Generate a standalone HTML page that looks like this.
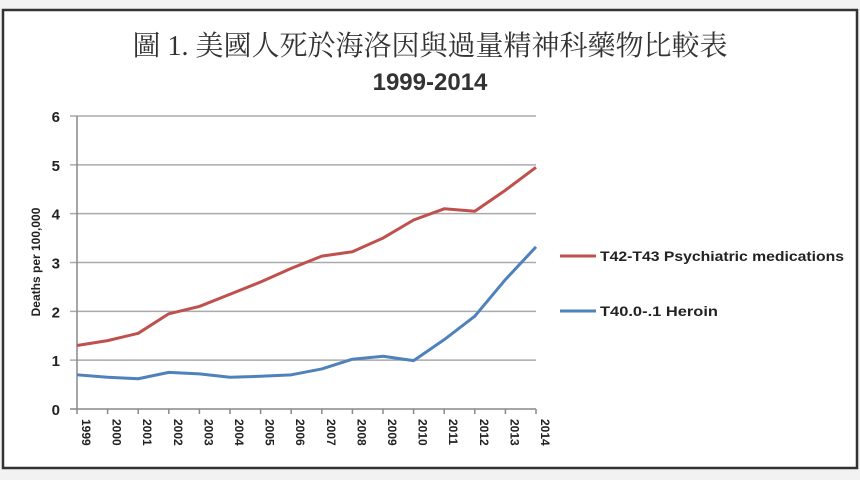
<!DOCTYPE html>
<html><head><meta charset="utf-8"><style>
html,body{margin:0;padding:0;background:#fff;}
body{width:860px;height:480px;overflow:hidden;}
svg text{font-family:"Liberation Sans","Noto Sans CJK TC",sans-serif;}
svg text.serif{font-family:"Liberation Serif","Noto Serif CJK SC",serif;}
</style></head><body>
<svg width="860" height="480">
<rect x="0" y="0" width="860" height="480" fill="#f2f2f2"/>
<rect x="3" y="10" width="854" height="458" fill="#fff" stroke="#333" stroke-width="2.5"/>
<text class="serif" x="430" y="55" text-anchor="middle" font-size="28" fill="#333">圖 1. 美國人死於海洛因與過量精神科藥物比較表</text>
<text x="430" y="90" text-anchor="middle" font-size="24" font-weight="bold" fill="#333">1999-2014</text>
<g id="grid"></g><g id="axes"></g><g id="lines"></g>
<text transform="translate(40,262) rotate(-90)" text-anchor="middle" font-size="12" font-weight="bold" fill="#222">Deaths per 100,000</text>
<line x1="560" y1="256" x2="596" y2="256" stroke="#c0504d" stroke-width="3"/>
<text x="600" y="261" font-size="14" font-weight="bold" fill="#222" textLength="244" lengthAdjust="spacingAndGlyphs">T42-T43 Psychiatric medications</text>
<line x1="560" y1="311" x2="596" y2="311" stroke="#4f81bd" stroke-width="3"/>
<text x="600" y="316" font-size="14" font-weight="bold" fill="#222" textLength="118" lengthAdjust="spacingAndGlyphs">T40.0-.1 Heroin</text>
</svg>
<script>
const years=[1999,2000,2001,2002,2003,2004,2005,2006,2007,2008,2009,2010,2011,2012,2013,2014];
const psychiatric=[1.3,1.4,1.55,1.95,2.1,2.35,2.6,2.88,3.13,3.22,3.5,3.87,4.1,4.05,4.48,4.95];
const heroin=[0.7,0.65,0.62,0.75,0.72,0.65,0.67,0.7,0.82,1.02,1.08,0.99,1.42,1.9,2.65,3.32];
const yTicks=[0,1,2,3,4,5,6];
const NS="http://www.w3.org/2000/svg";
const X0=77,X1=536,Y0=409,Y1=116,YMAX=6;
function xs(i){return X0+(X1-X0)*i/(years.length-1);}
function ys(v){return Y0-(Y0-Y1)*v/YMAX;}
function mk(t,a,p){const e=document.createElementNS(NS,t);for(const k in a)e.setAttribute(k,a[k]);p.appendChild(e);return e;}
const grid=document.getElementById('grid'),axes=document.getElementById('axes'),lines=document.getElementById('lines');
yTicks.forEach(v=>{
  const l=mk('line',{x1:70,x2:X1,y1:ys(v),y2:ys(v),stroke:v===0?'#888':'#aaa','stroke-width':1.5},grid);
  
  
  const t=mk('text',{x:60,y:ys(v)+6,'text-anchor':'end','font-size':15,'font-weight':'bold',fill:'#222'},axes);
  t.textContent=v;
  
  
});
const ya=mk('line',{x1:X0,x2:X0,y1:Y1,y2:Y0,stroke:'#888','stroke-width':1.5},axes);


years.forEach((y,i)=>{
  const tk=mk('line',{x1:xs(i),x2:xs(i),y1:Y0,y2:Y0+5,stroke:'#888','stroke-width':1.5},axes);
  
  
  const t=mk('text',{transform:`translate(${xs(i)+5},${Y0+10}) rotate(90)`,'font-size':12,'font-weight':'bold',fill:'#222'},axes);
  t.textContent=y;
  
  
});
function series(data,color,name){
  const p=mk('polyline',{points:data.map((v,i)=>xs(i)+','+ys(v)).join(' '),fill:'none',stroke:color,'stroke-width':3,'stroke-linejoin':'round'},lines);
  
  
}
series(psychiatric,'#c0504d','line-psychiatric-medications');
series(heroin,'#4f81bd','line-heroin');
</script>
</body></html>
